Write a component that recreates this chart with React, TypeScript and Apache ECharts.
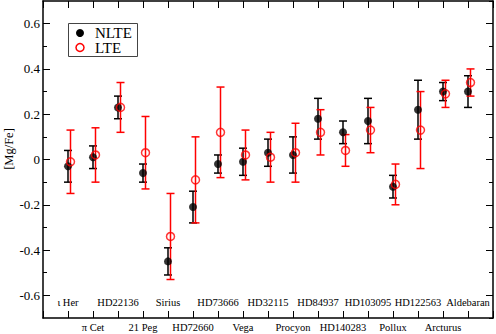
import React, { useEffect, useRef } from "react";
import * as echarts from "echarts";

const stars = ["ι Her", "π Cet", "HD22136", "21 Peg", "Sirius", "HD72660", "HD73666", "Vega", "HD32115", "Procyon", "HD84937", "HD140283", "HD103095", "Pollux", "HD122563", "Arcturus", "Aldebaran"];
const nlteVal = [-0.03, 0.01, 0.23, -0.06, -0.45, -0.21, -0.02, -0.01, 0.03, 0.02, 0.18, 0.12, 0.17, -0.12, 0.22, 0.30, 0.30];
const nlteErr = [0.07, 0.05, 0.05, 0.04, 0.06, 0.07, 0.04, 0.06, 0.06, 0.08, 0.09, 0.05, 0.10, 0.05, 0.13, 0.04, 0.07];
const lteVal = [-0.01, 0.02, 0.23, 0.03, -0.34, -0.09, 0.12, 0.02, 0.01, 0.03, 0.12, 0.04, 0.13, -0.11, 0.13, 0.29, 0.34];
const lteErr = [0.14, 0.12, 0.11, 0.16, 0.19, 0.19, 0.20, 0.11, 0.11, 0.13, 0.10, 0.07, 0.10, 0.09, 0.17, 0.06, 0.06];
const yMajorTicks = [-0.6, -0.4, -0.2, 0, 0.2, 0.4, 0.6];

const FONT = "'Liberation Serif', 'Times New Roman', serif";
const LTE_SHIFT = 0.1;

function errBarSeries(name: string, vals: number[], errs: number[], shift: number, color: string) {
  return {
    name,
    type: "custom",
    xAxisIndex: 0,
    yAxisIndex: 0,
    silent: true,
    data: vals.map((v, i) => [i + 1 + shift, v - errs[i], v + errs[i]]),
    renderItem: (params: any, api: any) => {
      const x = api.value(0);
      const lo = api.coord([x, api.value(1)]);
      const hi = api.coord([x, api.value(2)]);
      const cw = 4;
      const style = { stroke: color, lineWidth: 1.5 };
      return {
        type: "group",
        children: [
          { type: "line", shape: { x1: lo[0], y1: lo[1], x2: hi[0], y2: hi[1] }, style },
          { type: "line", shape: { x1: lo[0] - cw, y1: lo[1], x2: lo[0] + cw, y2: lo[1] }, style },
          { type: "line", shape: { x1: hi[0] - cw, y1: hi[1], x2: hi[0] + cw, y2: hi[1] }, style },
        ],
      };
    },
  };
}

const frameLine = { show: true, onZero: false, lineStyle: { color: "#000", width: 1.5 } };
const noLine = { show: false, onZero: false };

function yAxes(position: "left" | "right", withLabels: boolean) {
  return [
    {
      type: "value",
      position,
      min: -0.7,
      max: 0.7,
      interval: 0.1,
      axisLine: frameLine,
      splitLine: { show: false },
      axisTick: { show: true, inside: true, length: 4, lineStyle: { color: "#000", width: 1 } },
      axisLabel: {
        show: withLabels,
        margin: 3,
        fontFamily: FONT,
        fontSize: 13,
        color: "#000",
        showMinLabel: false,
        showMaxLabel: false,
        formatter: (v: number) => {
          const r = Math.round(v * 10);
          if (r % 2 !== 0) return "";
          return r === 0 ? "0" : (r / 10).toFixed(1);
        },
      },
    },
    {
      type: "value",
      position,
      min: -0.7,
      max: 0.7,
      interval: 0.1,
      axisLine: noLine,
      splitLine: { show: false },
      axisTick: { show: true, inside: true, length: 7, customValues: yMajorTicks, lineStyle: { color: "#000", width: 1 } },
      axisLabel: { show: false },
    },
  ];
}

function labelFormatter(parity: number) {
  return (v: number) => {
    const i = Math.round(v) - 1;
    if (i < 0 || i >= stars.length) return "";
    return i % 2 === parity ? stars[i] : "";
  };
}

export default function App() {
  const ref = useRef<HTMLDivElement>(null);
  useEffect(() => {
    if (!ref.current) return;
    const chart = echarts.init(ref.current, undefined, { renderer: "svg" });
    const xBase = { type: "value", min: 0, max: 18, interval: 1, splitLine: { show: false } };
    chart.setOption({
      animation: false,
      backgroundColor: "#fff",
      textStyle: { fontFamily: FONT },
      grid: { left: 43, right: 2.5, top: 1, bottom: 16, containLabel: false },
      xAxis: [
        {
          ...xBase,
          position: "bottom",
          axisLine: frameLine,
          axisTick: { show: true, inside: true, length: 7, lineStyle: { color: "#000", width: 1 } },
          axisLabel: { inside: true, margin: 10.5, fontFamily: FONT, fontSize: 10.5, color: "#000", formatter: labelFormatter(0) },
        },
        {
          ...xBase,
          position: "bottom",
          axisLine: noLine,
          axisTick: { show: false },
          axisLabel: { inside: false, margin: 4, fontFamily: FONT, fontSize: 10.5, color: "#000", formatter: labelFormatter(1) },
        },
        {
          ...xBase,
          position: "top",
          axisLine: frameLine,
          axisTick: { show: true, inside: true, length: 7, lineStyle: { color: "#000", width: 1 } },
          axisLabel: { show: false },
        },
      ],
      yAxis: [...yAxes("left", true), ...yAxes("right", false)],
      series: [
        errBarSeries("NLTE err", nlteVal, nlteErr, 0, "#000"),
        {
          name: "NLTE",
          type: "scatter",
          xAxisIndex: 0,
          yAxisIndex: 0,
          symbol: "circle",
          symbolSize: 8,
          itemStyle: { color: "#000" },
          data: nlteVal.map((v, i) => [i + 1, v]),
        },
        errBarSeries("LTE err", lteVal, lteErr, LTE_SHIFT, "#ff0000"),
        {
          name: "LTE",
          type: "scatter",
          xAxisIndex: 0,
          yAxisIndex: 0,
          symbol: "circle",
          symbolSize: 8,
          itemStyle: { color: "rgba(255,255,255,0)", borderColor: "#ff0000", borderWidth: 1.5 },
          data: lteVal.map((v, i) => [i + 1 + LTE_SHIFT, v]),
        },
      ],
      graphic: [
        { type: "rect", shape: { x: 68.5, y: 23.5, width: 69, height: 33 }, style: { fill: "#fff", stroke: "#444", lineWidth: 1 }, z: 100 },
        { type: "circle", shape: { cx: 80, cy: 33, r: 4 }, style: { fill: "#000" }, z: 101 },
        { type: "circle", shape: { cx: 80, cy: 47.5, r: 4 }, style: { fill: "none", stroke: "#ff0000", lineWidth: 1.5 }, z: 101 },
        { type: "text", x: 95, y: 33, style: { text: "NLTE", fontFamily: FONT, fontSize: 15, fill: "#000", textVerticalAlign: "middle" }, z: 101 },
        { type: "text", x: 95, y: 47.5, style: { text: "LTE", fontFamily: FONT, fontSize: 15, fill: "#000", textVerticalAlign: "middle" }, z: 101 },
        { type: "text", x: 8.5, y: 149, rotation: Math.PI / 2, style: { text: "[Mg/Fe]", fontFamily: FONT, fontSize: 12.5, fill: "#000", textAlign: "center", textVerticalAlign: "middle" } },
      ],
    });
    return () => chart.dispose();
  }, []);
  return <div ref={ref} style={{ width: 496, height: 334, position: "fixed", left: 0, top: 0 }} />;
}
